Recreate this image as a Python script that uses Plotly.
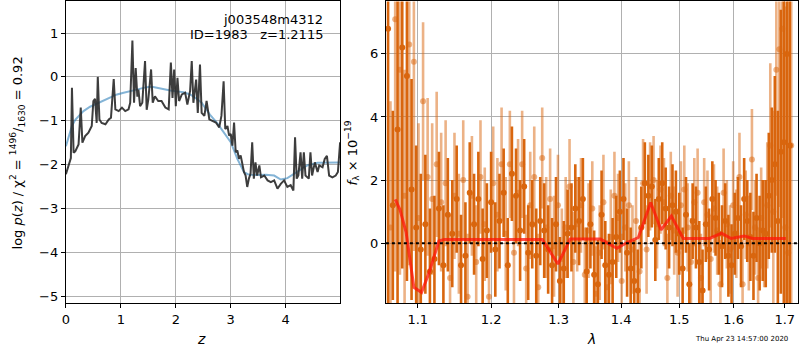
import plotly.graph_objects as go

# ---------------- left panel: p(z) ----------------
z_pz = [0.00, 0.067, 0.09, 0.11, 0.14, 0.17, 0.23, 0.27, 0.30, 0.35, 0.41, 0.47, 0.50, 0.53, 0.56, 0.58, 0.61, 0.65,
        0.72, 0.78, 0.82, 0.87, 0.90, 0.96, 1.02, 1.08, 1.14, 1.17, 1.21, 1.24, 1.27, 1.30, 1.32, 1.35, 1.39, 1.44,
        1.47, 1.50, 1.55, 1.58, 1.62, 1.68, 1.74, 1.81, 1.87, 1.91, 1.94, 1.97, 2.00, 2.03, 2.06, 2.11, 2.17, 2.21,
        2.26, 2.29, 2.32, 2.37, 2.40, 2.44, 2.47, 2.52, 2.56, 2.61, 2.67, 2.73, 2.79, 2.83, 2.87, 2.90, 2.94, 2.97,
        3.00, 3.03, 3.06, 3.09, 3.12, 3.15, 3.18, 3.21, 3.24, 3.27, 3.30, 3.33, 3.36, 3.39, 3.42, 3.45, 3.48, 3.52,
        3.55, 3.61, 3.67, 3.73, 3.79, 3.85, 3.91, 3.97, 4.03, 4.09, 4.14, 4.17, 4.20, 4.23, 4.27, 4.30, 4.33, 4.36,
        4.42, 4.45, 4.48, 4.53, 4.58, 4.61, 4.67, 4.71, 4.75, 4.79, 4.85, 4.91, 4.95, 4.99]
logp = [-2.22, -1.95, -1.85, -0.25, -1.73, -1.70, -1.54, -0.70, -1.50, -1.35, -1.27, -1.12, -0.55, -0.50, -1.05, 0.00,
        -0.97, -1.05, -1.08, -0.97, -0.93, -0.05, -0.74, -0.78, -0.70, -0.78, -0.74, -0.59, 0.83, -0.59, 0.20, -0.45,
        -0.29, -0.67, -0.59, 0.36, -0.75, -0.51, 0.17, -0.59, -0.44, -0.55, -0.55, -0.70, -0.74, 0.33, -0.48, 0.17,
        -0.67, -0.02, -0.55, -0.40, -0.36, -0.63, -0.32, 0.36, -0.59, -0.06, -0.82, 0.28, -0.82, -0.89, -0.55, -0.97,
        -1.00, -1.04, -1.15, -0.89, -0.10, -1.19, -1.12, -1.34, -1.30, -1.57, -1.04, -1.72, -1.68, -1.87, -1.79,
        -2.02, -2.17, -2.25, -2.51, -2.32, -2.21, -1.49, -2.32, -1.95, -2.25, -2.02, -2.29, -2.25, -2.36, -2.40,
        -2.36, -2.55, -2.44, -2.36, -2.51, -2.47, -2.59, -1.38, -2.32, -2.25, -1.72, -2.32, -1.72, -2.25, -2.32,
        -1.72, -2.25, -1.95, -2.17, -2.02, -2.06, -1.87, -1.80, -2.25, -2.29, -2.25, -2.17, -1.49]

z_prior = [0.00, 0.05, 0.11, 0.17, 0.23, 0.32, 0.44, 0.55, 0.68, 0.80, 0.93, 1.05, 1.17, 1.29, 1.41, 1.50, 1.59,
           1.70, 1.78, 1.90, 2.02, 2.14, 2.26, 2.36, 2.47, 2.62, 2.75, 2.85, 3.00, 3.12, 3.24, 3.31, 3.36, 3.50,
           3.64, 3.79, 3.91, 4.03, 4.12, 4.21, 4.30, 4.39, 4.58, 4.80, 4.99]
chi2_prior = [-1.58, -1.35, -1.12, -0.98, -0.89, -0.78, -0.68, -0.62, -0.55, -0.47, -0.40, -0.36, -0.33, -0.29,
              -0.25, -0.23, -0.23, -0.26, -0.29, -0.31, -0.33, -0.35, -0.40, -0.48, -0.59, -0.86, -1.05, -1.23,
              -1.49, -1.87, -2.17, -2.22, -2.23, -2.24, -2.23, -2.25, -2.34, -2.31, -2.24, -2.17, -2.10, -2.02,
              -1.96, -1.95, -1.95]

# ---------------- right panel: spectrum ----------------
lam_a = [1.062, 1.068, 1.074, 1.080, 1.086, 1.092, 1.098, 1.104, 1.110, 1.116,
         1.122, 1.128, 1.134, 1.140, 1.146, 1.152, 1.158, 1.164, 1.170, 1.176,
         1.182, 1.188, 1.194, 1.200, 1.206, 1.212, 1.218, 1.224, 1.230, 1.236,
         1.242, 1.248, 1.254, 1.260, 1.266, 1.272, 1.278, 1.284, 1.290, 1.296,
         1.302, 1.308, 1.314, 1.320, 1.326, 1.332, 1.338, 1.344, 1.350, 1.356,
         1.362, 1.368, 1.374, 1.380, 1.386, 1.392, 1.398, 1.404, 1.410, 1.416,
         1.422, 1.428, 1.434, 1.440, 1.446, 1.452, 1.458, 1.464, 1.470, 1.476,
         1.482, 1.488, 1.494, 1.500, 1.506, 1.512, 1.518, 1.524, 1.530, 1.536,
         1.542, 1.548, 1.554, 1.560, 1.566, 1.572, 1.578, 1.584, 1.590, 1.596,
         1.602, 1.608, 1.614, 1.620, 1.626, 1.632, 1.638, 1.644, 1.650, 1.656,
         1.662, 1.668, 1.674, 1.680, 1.686, 1.692, 1.698, 1.704, 1.710]
flux_a = [6.8, 1.2, 3.6, 6.2, 5.3, 1.7, 0.5, -0.2, 0.6, -0.9,
          -0.5, 1.1, -0.7, 0.9, 0.3, 1.4, -0.7, -0.4, 1.6, 0.6,
          1.4, -0.5, 0.4, 1.3, -0.2, 0.7, 1.6, -0.7, 2.2, 1.5,
          0.4, 1.8, -0.3, 0.6, -0.4, 0.7, 0.4, -0.2, -0.7, 0.6,
          -1.2, -0.8, 0.3, 0.5, 1.1, 0.7, 1.4, -0.9, 0.6, -1.0,
          -1.3, 0.9, -0.7, -1.0, -0.6, 0.2, 1.0, 1.4, -0.3, -0.8,
          -1.2, -1.5, 0.5, 1.9, 1.5, 1.8, 0.1, 1.4, 1.9, 1.1,
          0.5, 1.2, 1.0, 0.3, -0.8, 0.9, -1.3, 0.7, 0.5, -0.6,
          -1.5, 0.6, -0.2, 1.4, 0.8, 0.3, -0.1, 0.7, -0.4, -0.7,
          0.3, 0.8, -0.1, 1.4, 0.7, 0.2, -0.4, 0.8, 0.0, 0.4,
          0.3, 1.5, 2.0, 2.5, 0.7, 2.9, 3.2, 6.0, 3.1]
err_a = [9.0, 3.0, 5.5, 7.0, 6.5, 3.5, 2.6, 2.4, 2.2, 2.0,
         2.0, 1.8, 1.9, 1.8, 1.7, 1.7, 1.6, 1.7, 1.6, 1.6,
         1.5, 1.6, 1.5, 1.6, 1.5, 1.5, 1.4, 1.5, 1.5, 1.5,
         1.6, 1.5, 1.5, 1.4, 1.5, 1.4, 1.5, 1.4, 1.5, 1.5,
         1.4, 1.5, 1.4, 1.4, 1.4, 1.4, 1.3, 1.4, 1.4, 1.4,
         1.4, 1.4, 1.4, 1.3, 1.4, 1.3, 1.3, 1.3, 1.4, 1.3,
         1.3, 1.3, 1.3, 1.3, 1.3, 1.3, 1.3, 1.3, 1.3, 1.3,
         1.3, 1.3, 1.3, 1.3, 1.3, 1.2, 1.3, 1.2, 1.3, 1.3,
         1.3, 1.2, 1.3, 1.2, 1.2, 1.3, 1.3, 1.2, 1.3, 1.3,
         1.3, 1.3, 1.3, 1.3, 1.3, 1.4, 1.4, 1.4, 1.5, 1.6,
         1.7, 2.0, 2.3, 2.8, 3.5, 4.5, 6.5, 8.0, 9.0]

lam_b = [1.065, 1.071, 1.077, 1.083, 1.089, 1.095, 1.101, 1.107, 1.113, 1.119,
         1.125, 1.131, 1.137, 1.143, 1.149, 1.155, 1.161, 1.167, 1.173, 1.179,
         1.185, 1.191, 1.197, 1.203, 1.209, 1.215, 1.221, 1.227, 1.233, 1.239,
         1.245, 1.251, 1.257, 1.263, 1.269, 1.275, 1.281, 1.287, 1.293, 1.299,
         1.305, 1.311, 1.317, 1.323, 1.329, 1.335, 1.341, 1.347, 1.353, 1.359,
         1.365, 1.371, 1.377, 1.383, 1.389, 1.395, 1.401, 1.407, 1.413, 1.419,
         1.425, 1.431, 1.437, 1.443, 1.449, 1.455, 1.461, 1.467, 1.473, 1.479,
         1.485, 1.491, 1.497, 1.503, 1.509, 1.515, 1.521, 1.527, 1.533, 1.539,
         1.545, 1.551, 1.557, 1.563, 1.569, 1.575, 1.581, 1.587, 1.593, 1.599,
         1.605, 1.611, 1.617, 1.623, 1.629, 1.635, 1.641, 1.647, 1.653, 1.659,
         1.665, 1.671, 1.677, 1.683, 1.689, 1.695, 1.701, 1.707, 1.713]
flux_b = [0.5, 7.1, 5.5, 1.5, 6.3, 5.75, 0.8, 4.5, 2.1, 1.4,
          2.5, 1.3, 1.9, -1.1, 1.5, 0.3, 2.0, -1.7, 1.5, -0.6,
          2.1, 0.6, -1.7, 1.9, 0.9, 2.5, 0.3, 2.5, -0.3, 1.6,
          2.5, -0.8, 1.2, 2.1, -1.4, 2.7, 0.5, 1.4, -0.1, 1.2,
          -0.5, 0.5, 1.8, -0.6, 0.6, 1.2, -1.0, 0.4, 1.1, -1.6,
          -0.3, 1.3, -1.4, 0.2, 1.5, 0.8, -1.2, 0.5, 1.2, -0.2,
          0.7, -0.9, 1.9, -0.2, 1.8, 2.0, 0.6, 1.7, 1.3, -1.1,
          1.5, 0.4, -0.3, 1.2, 1.7, 0.5, -0.6, 1.3, 1.6, -1.1,
          1.3, 0.9, -0.5, 1.1, 0.4, -1.3, 1.6, 0.6, -0.2, 1.2,
          0.3, 2.1, -1.3, 0.9, 0.0, 2.65, 0.5, -1.1, 0.8, 0.3,
          1.2, 3.1, 1.0, 5.5, 6.15, 6.8, 0.5, -0.3, 3.1]
err_b = [4.0, 8.0, 6.5, 4.0, 7.0, 6.0, 3.0, 2.5, 2.5, 2.4,
         2.3, 2.2, 2.0, 2.0, 2.0, 1.9, 1.9, 2.0, 1.9, 1.8,
         1.8, 1.8, 1.8, 1.8, 1.8, 1.8, 1.8, 1.7, 1.8, 1.7,
         1.7, 1.7, 1.7, 1.6, 1.7, 1.6, 1.6, 1.6, 1.6, 1.6,
         1.6, 1.6, 1.5, 1.6, 1.5, 1.5, 1.5, 1.5, 1.5, 1.5,
         1.5, 1.5, 1.5, 1.5, 1.4, 1.4, 1.5, 1.4, 1.4, 1.4,
         1.4, 1.4, 1.4, 1.4, 1.4, 1.4, 1.4, 1.4, 1.4, 1.4,
         1.4, 1.4, 1.4, 1.4, 1.4, 1.4, 1.4, 1.4, 1.4, 1.4,
         1.4, 1.4, 1.4, 1.4, 1.4, 1.4, 1.4, 1.4, 1.4, 1.4,
         1.4, 1.4, 1.4, 1.4, 1.5, 1.6, 1.5, 1.6, 1.6, 1.7,
         2.0, 2.6, 3.2, 4.0, 5.0, 6.0, 7.0, 8.0, 9.0]

lam_model = [1.071, 1.077, 1.085, 1.095, 1.105, 1.115, 1.128, 1.135, 1.200, 1.275, 1.299, 1.318, 1.366,
             1.393, 1.410, 1.429, 1.450, 1.468, 1.486, 1.507, 1.555, 1.577, 1.595, 1.620, 1.636, 1.702]
flux_model = [1.39, 1.07, 0.34, -1.40, -1.56, -0.93, 0.07, 0.12, 0.12, 0.12, -0.66, 0.13, 0.13,
              -0.16, 0.02, 0.18, 1.29, 0.42, 0.86, 0.15, 0.15, 0.32, 0.15, 0.23, 0.15, 0.15]

x_ticks_right = [1.1, 1.2, 1.3, 1.4, 1.5, 1.6, 1.7]
x_ticklabels_right = ["1.1", "1.2", "1.3", "1.4", "1.5", "1.6", "1.7"]

# ---------------- figure ----------------
FONT = "DejaVu Sans"
W, H = 800, 350
ORANGE = "rgb(217,102,14)"
ORANGE_L = "rgba(217,102,14,0.5)"

fig = go.Figure()

fig.add_trace(go.Scatter(x=z_prior, y=chi2_prior, mode="lines",
                         line=dict(color="rgba(31,119,180,0.55)", width=2),
                         xaxis="x", yaxis="y", showlegend=False))
fig.add_trace(go.Scatter(x=z_pz, y=logp, mode="lines",
                         line=dict(color="rgba(40,40,40,0.9)", width=2),
                         xaxis="x", yaxis="y", showlegend=False))

fig.add_trace(go.Scatter(x=lam_a, y=flux_a, mode="markers",
                         marker=dict(color=ORANGE, size=6, line=dict(width=0)),
                         error_y=dict(type="data", array=err_a, visible=True, thickness=2.6, width=0,
                                      color=ORANGE),
                         xaxis="x2", yaxis="y2", showlegend=False))
fig.add_trace(go.Scatter(x=lam_b, y=flux_b, mode="markers",
                         marker=dict(color=ORANGE_L, size=6, line=dict(width=0)),
                         error_y=dict(type="data", array=err_b, visible=True, thickness=2.6, width=0,
                                      color=ORANGE_L),
                         xaxis="x2", yaxis="y2", showlegend=False))
fig.add_trace(go.Scatter(x=lam_model, y=flux_model, mode="lines",
                         line=dict(color="rgba(255,20,10,0.75)", width=3),
                         xaxis="x2", yaxis="y2", showlegend=False))

y_dom = [(H - 304) / H, (H - 1.5) / H]
axis_common = dict(showline=True, mirror=True, linecolor="black", linewidth=1.2,
                   ticks="outside", ticklen=4, tickwidth=1, tickcolor="black",
                   showgrid=True, gridcolor="#b0b0b0", gridwidth=1, zeroline=False,
                   tickfont=dict(family=FONT, size=13, color="black"))

fig.update_layout(
    width=W, height=H, autosize=False, showlegend=False,
    margin=dict(l=0, r=0, t=0, b=0),
    paper_bgcolor="white", plot_bgcolor="white",
    xaxis=dict(domain=[62.3 / W, 338.5 / W], range=[0, 4.995], anchor="y",
               tickvals=[0, 1, 2, 3, 4], **axis_common),
    yaxis=dict(domain=y_dom, range=[-5.16, 1.72], anchor="x",
               tickvals=[-5, -4, -3, -2, -1, 0, 1],
               ticktext=["\u22125", "\u22124", "\u22123", "\u22122", "\u22121", "0", "1"], **axis_common),
    xaxis2=dict(domain=[384.3 / W, 799.3 / W], type="log", range=[0.0250, 0.2374], anchor="y2",
                tickvals=x_ticks_right, ticktext=x_ticklabels_right, **axis_common),
    yaxis2=dict(domain=y_dom, range=[-1.9, 7.66], anchor="x2",
                tickvals=[0, 2, 4, 6], **axis_common),
)

# zero line on spectrum panel
fig.add_shape(type="line", xref="x2 domain", yref="y2", x0=0, x1=1, y0=0, y1=0,
              line=dict(color="black", width=2, dash="dot"))

ann_font = dict(family=FONT, size=13, color="black")
fig.add_annotation(text="j003548m4312", xref="paper", yref="paper",
                   x=323.5 / W, y=(H - 20) / H, xanchor="right", yanchor="middle",
                   showarrow=False, font=ann_font)
fig.add_annotation(text="ID=1983\u00a0\u00a0\u00a0z=1.2115", xref="paper", yref="paper",
                   x=323.5 / W, y=(H - 35) / H, xanchor="right", yanchor="middle",
                   showarrow=False, font=ann_font)
fig.add_annotation(text="<i>z</i>", xref="paper", yref="paper", x=199 / W, y=(H - 340) / H,
                   xanchor="center", yanchor="middle", showarrow=False,
                   font=dict(family=FONT, size=14, color="black"))
fig.add_annotation(text="<i>\u03bb</i>", xref="paper", yref="paper", x=591 / W, y=(H - 340) / H,
                   xanchor="center", yanchor="middle", showarrow=False,
                   font=dict(family=FONT, size=14, color="black"))
fig.add_annotation(text="log <i>p</i>(<i>z</i>) / \u03c7<sup>2</sup> = <sup>1496</sup>/<sub>1630</sub> = 0.92",
                   xref="paper", yref="paper", x=13 / W, y=(H - 153) / H, textangle=-90,
                   xanchor="center", yanchor="middle", showarrow=False,
                   font=dict(family=FONT, size=13, color="black"))
fig.add_annotation(text="<i>f</i><sub>\u03bb</sub> \u00d7 10<sup>\u221219</sup>",
                   xref="paper", yref="paper", x=350 / W, y=(H - 153) / H, textangle=-90,
                   xanchor="center", yanchor="middle", showarrow=False,
                   font=dict(family=FONT, size=13, color="black"))
fig.add_annotation(text="Thu Apr 23 14:57:00 2020", xref="paper", yref="paper",
                   x=742 / W, y=(H - 339.5) / H, xanchor="center", yanchor="middle",
                   showarrow=False, font=dict(family=FONT, size=7, color="black"))

fig.write_html("out.html", config={"displayModeBar": False},
               post_script="document.body.style.margin='0';document.body.style.overflow='hidden';")
